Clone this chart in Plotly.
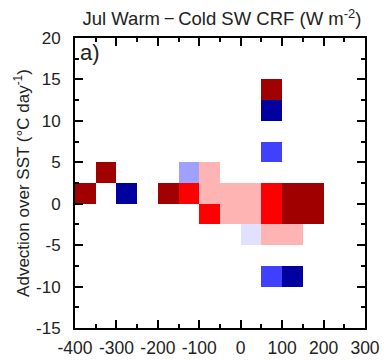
import plotly.graph_objects as go

# Cell data: x-bin centre, y-bin centre, colour class
cell_x = [-375, -325, -275, -175, -125, -125, -75, -75, -75, -25, -25, 25, 25, 25,
          75, 75, 75, 75, 75, 75, 75, 125, 125, 125, 125, 175, 175]
cell_y = [1.25, 3.75, 1.25, 1.25, 1.25, 3.75, 3.75, 1.25, -1.25, 1.25, -1.25, 1.25, -1.25, -3.75,
          13.75, 11.25, 6.25, 1.25, -1.25, -3.75, -8.75, 1.25, -1.25, -3.75, -8.75, 1.25, -1.25]
cell_v = [3, 3, -4, 3, 2, -2, 1, 1, 2, 1, 1, 1, 1, -1,
          3, -4, -3, 2, 2, 1, -3, 3, 3, 1, -4, 3, 3]

x_centers = [-375 + 50 * i for i in range(14)]
y_centers = [-13.75 + 2.5 * j for j in range(14)]

xtick_vals = [-400, -300, -200, -100, 0, 100, 200, 300]
xtick_text = ["-400", "-300", "-200", "-100", "0", "100", "200", "300"]
ytick_vals = [-15, -10, -5, 0, 5, 10, 15, 20]
ytick_text = ["-15", "-10", "-5", "0", "5", "10", "15", "20"]

level_colors = ["#0000a0", "#4040ff", "#a0a0ff", "#e0e0ff", "#ffffff", "#ffb4b4", "#ff0000", "#a00000"]

z = [[None for _ in x_centers] for _ in y_centers]
for xv, yv, v in zip(cell_x, cell_y, cell_v):
    z[y_centers.index(yv)][x_centers.index(xv)] = v

n = len(level_colors)
cs = []
for i, c in enumerate(level_colors):
    cs.append([i / n, c])
    cs.append([(i + 1) / n, c])

fig = go.Figure(go.Heatmap(
    x=x_centers, y=y_centers, z=z, colorscale=cs, zmin=-4.5, zmax=3.5,
    showscale=False, hoverongaps=False))

font = "Liberation Sans, Arial, sans-serif"
fig.update_layout(
    width=384, height=360,
    margin=dict(l=75, r=19, t=38, b=32, autoexpand=False),
    paper_bgcolor="white", plot_bgcolor="white",
    font=dict(family=font, size=17, color="#222"),
    title=dict(text="Jul Warm\u2009\u2212\u2009Cold SW CRF (W m<sup>-2</sup>)", x=0.578, xanchor="center",
               xref="container", y=1 - 19 / 360, yref="container", yanchor="middle", font=dict(size=18.5)),
    showlegend=False,
)
fig.update_xaxes(range=[-400, 300], tickvals=xtick_vals, ticktext=xtick_text, automargin=False,
                 ticks="inside", ticklen=8, tickwidth=1.5, tickcolor="black",
                 ticklabelstandoff=3, tickfont=dict(size=17.5),
                 showline=True, linewidth=2, linecolor="black", mirror="ticks",
                 showgrid=False, zeroline=False,
                 minor=dict(ticks="inside", dtick=50, tick0=0, ticklen=4, tickwidth=1.5, tickcolor="black"))
fig.update_yaxes(range=[-15, 20], tickvals=ytick_vals, ticktext=ytick_text, automargin=False,
                 ticks="inside", ticklen=8, tickwidth=1.5, tickcolor="black",
                 ticklabelstandoff=9, tickfont=dict(size=17),
                 showline=True, linewidth=2, linecolor="black", mirror="ticks",
                 showgrid=False, zeroline=False,
                 title=dict(text="Advection over SST (\u00b0C day<sup>-1</sup>)", standoff=2,
                            font=dict(size=17)),
                 minor=dict(ticks="inside", dtick=2.5, tick0=0, ticklen=4, tickwidth=1.5, tickcolor="black"))
fig.add_annotation(text="a)", xref="paper", yref="paper", x=0.012, y=1.0,
                   xanchor="left", yanchor="top", showarrow=False, font=dict(size=22))

fig.write_html("out.html", config={"displayModeBar": False},
               post_script="document.body.style.margin='0';document.body.style.padding='0';")
